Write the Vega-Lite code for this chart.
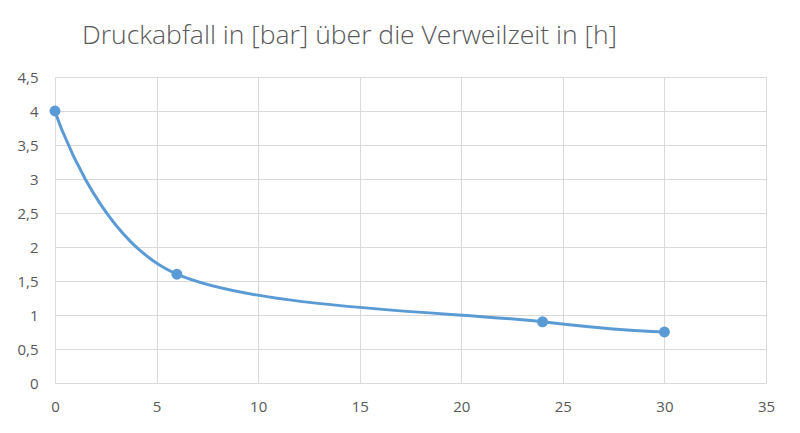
{
  "$schema": "https://vega.github.io/schema/vega-lite/v6.json",
  "width": 711,
  "height": 306,
  "autosize": {"type": "none"},
  "padding": {"left": 55, "top": 77, "right": 34, "bottom": 50},
  "background": "white",
  "title": {
    "text": "Druckabfall in [bar] über die Verweilzeit in [h]",
    "anchor": "start",
    "frame": "group",
    "dx": 27,
    "offset": 0,
    "baseline": "alphabetic",
    "font": "Open Sans",
    "fontSize": 26.5,
    "fontWeight": 300,
    "color": "#595959"
  },
  "config": {
    "view": {"stroke": null},
    "locale": {"number": {"decimal": ",", "thousands": ".", "grouping": [3], "currency": ["", " €"]}},
    "axis": {
      "labelFont": "Open Sans",
      "labelFontSize": 15,
      "labelColor": "#595959",
      "labelFlush": false,
      "gridColor": "#D9D9D9",
      "gridWidth": 1,
      "domain": false,
      "ticks": false,
      "title": null
    }
  },
  "data": {
    "values": [
      {"h": 0, "bar": 4},
      {"h": 6, "bar": 1.6},
      {"h": 24, "bar": 0.9},
      {"h": 30, "bar": 0.75}
    ]
  },
  "encoding": {
    "x": {"field": "h", "type": "quantitative", "scale": {"domain": [0, 35], "nice": false}, "axis": {"values": [0,5,10,15,20,25,30,35], "labelPadding": 16, "format": "d"}},
    "y": {"field": "bar", "type": "quantitative", "scale": {"domain": [0, 4.5], "nice": false}, "axis": {"values": [0,0.5,1,1.5,2,2.5,3,3.5,4,4.5], "labelPadding": 17, "format": "~g"}}
  },
  "layer": [
    {"mark": {"type": "line", "interpolate": "cardinal", "color": "#5B9BD5", "strokeWidth": 3}},
    {"mark": {"type": "point", "filled": true, "opacity": 1, "color": "#5B9BD5", "size": 120}}
  ]
}
